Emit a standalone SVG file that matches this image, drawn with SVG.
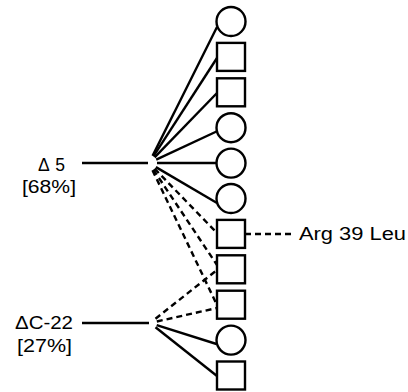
<svg xmlns="http://www.w3.org/2000/svg" width="408" height="392" viewBox="0 0 408 392">
<style>
.n{fill:#fff;stroke:#000;stroke-width:2.4}
.s{stroke:#000;stroke-width:2.4;fill:none;stroke-linecap:butt}
.d{stroke:#000;stroke-width:2.4;fill:none;stroke-dasharray:6 4}
.t{font-family:"Liberation Sans",Arial,sans-serif;font-size:17.5px;fill:#000}
</style>
<rect width="408" height="392" fill="#fff"/>
<g id="connectors">
<line class="s" x1="82" y1="163" x2="148" y2="163" stroke-width="2.8"/>
<line class="s" x1="152.6" y1="155.8" x2="217" y2="27"/>
<line class="s" x1="153.4" y1="156.3" x2="217" y2="58"/>
<line class="s" x1="154.6" y1="157.3" x2="217" y2="93"/>
<line class="s" x1="156.2" y1="159.6" x2="216.5" y2="131.5"/>
<line class="s" x1="157" y1="163" x2="216.5" y2="163"/>
<line class="s" x1="155.9" y1="167.1" x2="217" y2="203"/>
<line class="d" x1="154.6" y1="168.7" x2="217" y2="233"/>
<line class="d" x1="153.4" y1="169.7" x2="217" y2="265"/>
<line class="d" x1="152.5" y1="170.2" x2="217" y2="305"/>
<line class="s" x1="82" y1="323" x2="149" y2="323" stroke-width="2.8"/>
<line class="d" x1="155.5" y1="318.7" x2="217" y2="270"/>
<line class="d" x1="156.8" y1="321.5" x2="217" y2="308"/>
<line class="s" x1="156.7" y1="325.1" x2="216.5" y2="344"/>
<line class="s" x1="155.5" y1="327.3" x2="217" y2="376"/>
<line class="d" x1="245" y1="234" x2="295" y2="234"/>
</g>
<g id="n1"><circle class="n" cx="231" cy="21.5" r="14.5"/></g>
<g id="n2"><rect class="n" x="217" y="42.9" width="28" height="28"/></g>
<g id="n3"><rect class="n" x="217" y="78.3" width="28" height="28"/></g>
<g id="n4"><circle class="n" cx="231" cy="127.7" r="14.5"/></g>
<g id="n5"><circle class="n" cx="231" cy="163.1" r="14.5"/></g>
<g id="n6"><circle class="n" cx="231" cy="198.5" r="14.5"/></g>
<g id="n7"><rect class="n" x="217" y="219.9" width="28" height="28"/></g>
<g id="n8"><rect class="n" x="217" y="255.3" width="28" height="28"/></g>
<g id="n9"><rect class="n" x="217" y="290.7" width="28" height="28"/></g>
<g id="n10"><circle class="n" cx="231" cy="340.1" r="14.5"/></g>
<g id="n11"><rect class="n" x="217" y="361.5" width="28" height="28"/></g>
<g id="labels">
<text class="t" x="38" y="171" textLength="27" lengthAdjust="spacing">Δ5</text>
<text class="t" x="22" y="193" textLength="54" lengthAdjust="spacingAndGlyphs">[68%]</text>
<text class="t" x="15" y="329" textLength="58" lengthAdjust="spacingAndGlyphs">ΔC-22</text>
<text class="t" x="17" y="352" textLength="55" lengthAdjust="spacingAndGlyphs">[27%]</text>
<text class="t" x="299" y="240" textLength="107" lengthAdjust="spacingAndGlyphs">Arg 39 Leu</text>
</g>
</svg>
